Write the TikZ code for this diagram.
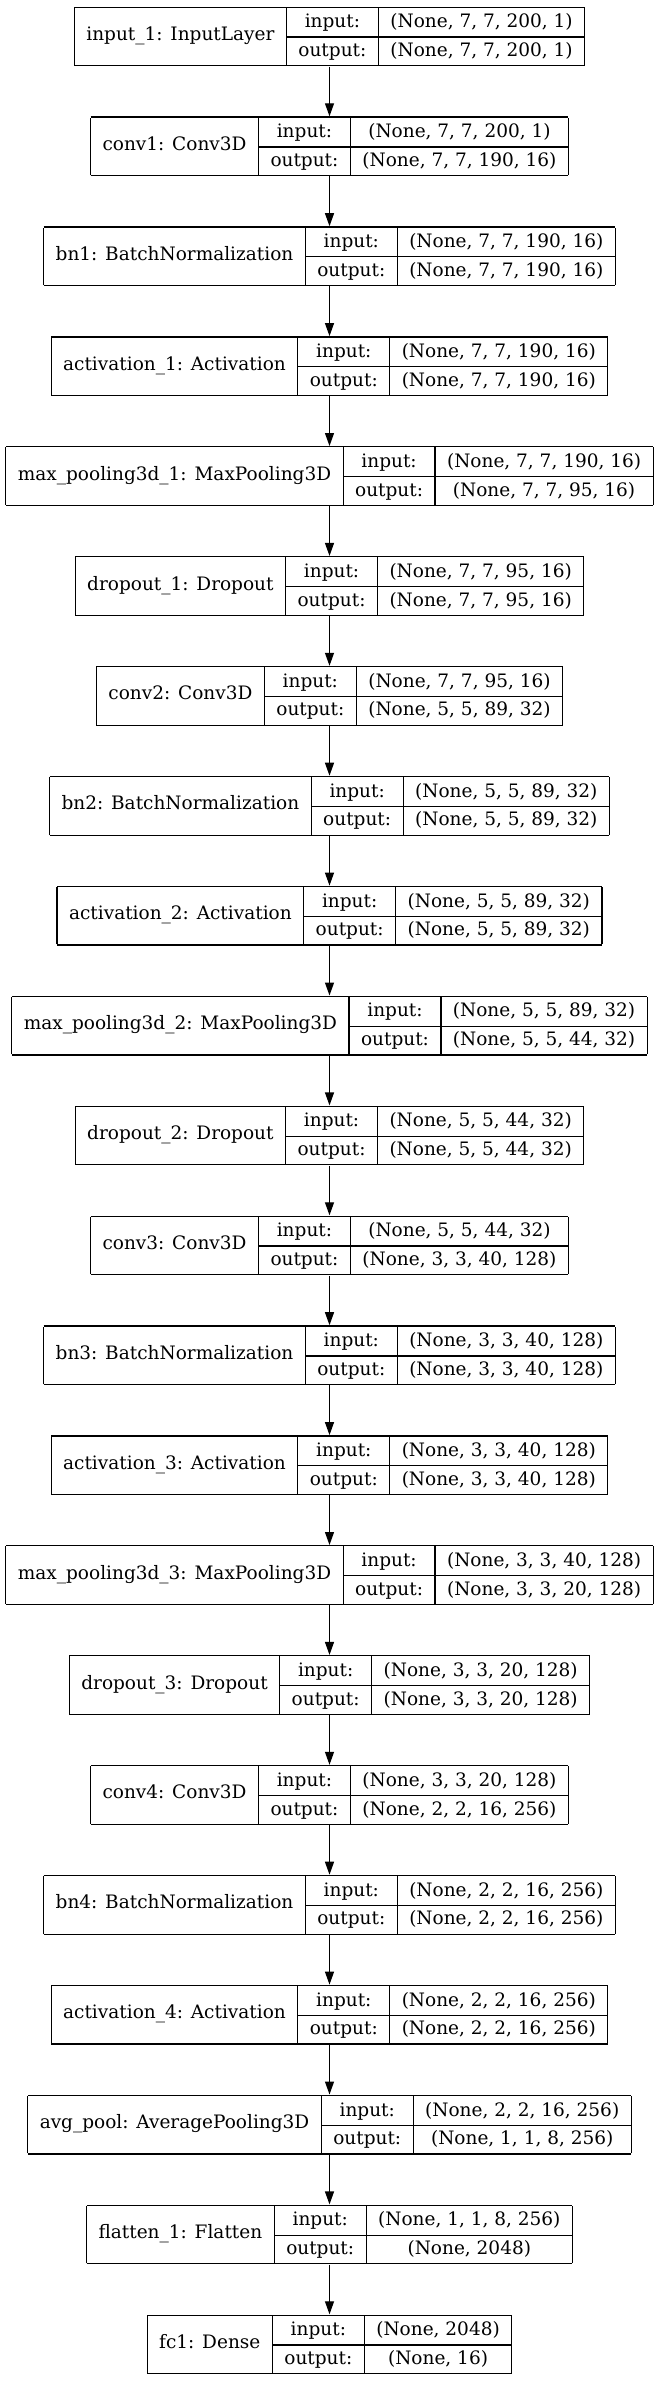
\documentclass[tikz,border=0pt]{standalone}
\usepackage{fontspec}
\setmainfont{DejaVu Serif}
\usepackage{multirow}
\usetikzlibrary{arrows.meta, positioning}
\setlength{\tabcolsep}{12pt}
\setlength{\arrayrulewidth}{1.2pt}
\renewcommand{\arraystretch}{1.435}
% one keras layer as a record: name | input/output | shapes
\newcommand{\layerrec}[3]{%
	\begin{tabular}{|c|c|c|}\hline
		\multirow{2}{*}{#1} & input: & #2\\\cline{2-3}
		& output: & #3\\\hline
	\end{tabular}}
\tikzset{
	layer/.style={rectangle, inner sep=0pt, font=\fontsize{18.5}{20}\selectfont},
}

\begin{document}
\begin{tikzpicture}[x=1pt, y=1pt, node distance=49.7pt]
	\useasboundingbox (0,0) rectangle (659,-2397);
	
	\node (in1) [layer] at (329.5,-36.5) {\layerrec{input\_1: InputLayer}{(None, 7, 7, 200, 1)}{(None, 7, 7, 200, 1)}};
	\node (conv1) [layer, below=of in1] {\layerrec{conv1: Conv3D}{(None, 7, 7, 200, 1)}{(None, 7, 7, 190, 16)}};
	\node (bn1) [layer, below=of conv1] {\layerrec{bn1: BatchNormalization}{(None, 7, 7, 190, 16)}{(None, 7, 7, 190, 16)}};
	\node (act1) [layer, below=of bn1] {\layerrec{activation\_1: Activation}{(None, 7, 7, 190, 16)}{(None, 7, 7, 190, 16)}};
	\node (pool1) [layer, below=of act1] {\layerrec{max\_pooling3d\_1: MaxPooling3D}{(None, 7, 7, 190, 16)}{(None, 7, 7, 95, 16)}};
	\node (drop1) [layer, below=of pool1] {\layerrec{dropout\_1: Dropout}{(None, 7, 7, 95, 16)}{(None, 7, 7, 95, 16)}};
	
	\node (conv2) [layer, below=of drop1] {\layerrec{conv2: Conv3D}{(None, 7, 7, 95, 16)}{(None, 5, 5, 89, 32)}};
	\node (bn2) [layer, below=of conv2] {\layerrec{bn2: BatchNormalization}{(None, 5, 5, 89, 32)}{(None, 5, 5, 89, 32)}};
	\node (act2) [layer, below=of bn2] {\layerrec{activation\_2: Activation}{(None, 5, 5, 89, 32)}{(None, 5, 5, 89, 32)}};
	\node (pool2) [layer, below=of act2] {\layerrec{max\_pooling3d\_2: MaxPooling3D}{(None, 5, 5, 89, 32)}{(None, 5, 5, 44, 32)}};
	\node (drop2) [layer, below=of pool2] {\layerrec{dropout\_2: Dropout}{(None, 5, 5, 44, 32)}{(None, 5, 5, 44, 32)}};
	
	\node (conv3) [layer, below=of drop2] {\layerrec{conv3: Conv3D}{(None, 5, 5, 44, 32)}{(None, 3, 3, 40, 128)}};
	\node (bn3) [layer, below=of conv3] {\layerrec{bn3: BatchNormalization}{(None, 3, 3, 40, 128)}{(None, 3, 3, 40, 128)}};
	\node (act3) [layer, below=of bn3] {\layerrec{activation\_3: Activation}{(None, 3, 3, 40, 128)}{(None, 3, 3, 40, 128)}};
	\node (pool3) [layer, below=of act3] {\layerrec{max\_pooling3d\_3: MaxPooling3D}{(None, 3, 3, 40, 128)}{(None, 3, 3, 20, 128)}};
	\node (drop3) [layer, below=of pool3] {\layerrec{dropout\_3: Dropout}{(None, 3, 3, 20, 128)}{(None, 3, 3, 20, 128)}};
	
	\node (conv4) [layer, below=of drop3] {\layerrec{conv4: Conv3D}{(None, 3, 3, 20, 128)}{(None, 2, 2, 16, 256)}};
	\node (bn4) [layer, below=of conv4] {\layerrec{bn4: BatchNormalization}{(None, 2, 2, 16, 256)}{(None, 2, 2, 16, 256)}};
	\node (act4) [layer, below=of bn4] {\layerrec{activation\_4: Activation}{(None, 2, 2, 16, 256)}{(None, 2, 2, 16, 256)}};
	\node (avgpool) [layer, below=of act4] {\layerrec{avg\_pool: AveragePooling3D}{(None, 2, 2, 16, 256)}{(None, 1, 1, 8, 256)}};
	
	\node (flat1) [layer, below=of avgpool] {\layerrec{flatten\_1: Flatten}{(None, 1, 1, 8, 256)}{(None, 2048)}};
	\node (fc1) [layer, below=of flat1] {\layerrec{fc1: Dense}{(None, 2048)}{(None, 16)}};
	
	\begin{scope}[line width=1.2pt, black, ->, >={Triangle[length=13pt, width=9pt]}]
		\draw (in1) -- (conv1);
		\draw (conv1) -- (bn1);
		\draw (bn1) -- (act1);
		\draw (act1) -- (pool1);
		\draw (pool1) -- (drop1);
		\draw (drop1) -- (conv2);
		
		\draw (conv2) -- (bn2);
		\draw (bn2) -- (act2);
		\draw (act2) -- (pool2);
		\draw (pool2) -- (drop2);
		\draw (drop2) -- (conv3);
		
		\draw (conv3) -- (bn3);
		\draw (bn3) -- (act3);
		\draw (act3) -- (pool3);
		\draw (pool3) -- (drop3);
		\draw (drop3) -- (conv4);
		
		\draw (conv4) -- (bn4);
		\draw (bn4) -- (act4);
		\draw (act4) -- (avgpool);
		\draw (avgpool) -- (flat1);
		\draw (flat1) -- (fc1);
	\end{scope}
	
\end{tikzpicture}
\end{document}
